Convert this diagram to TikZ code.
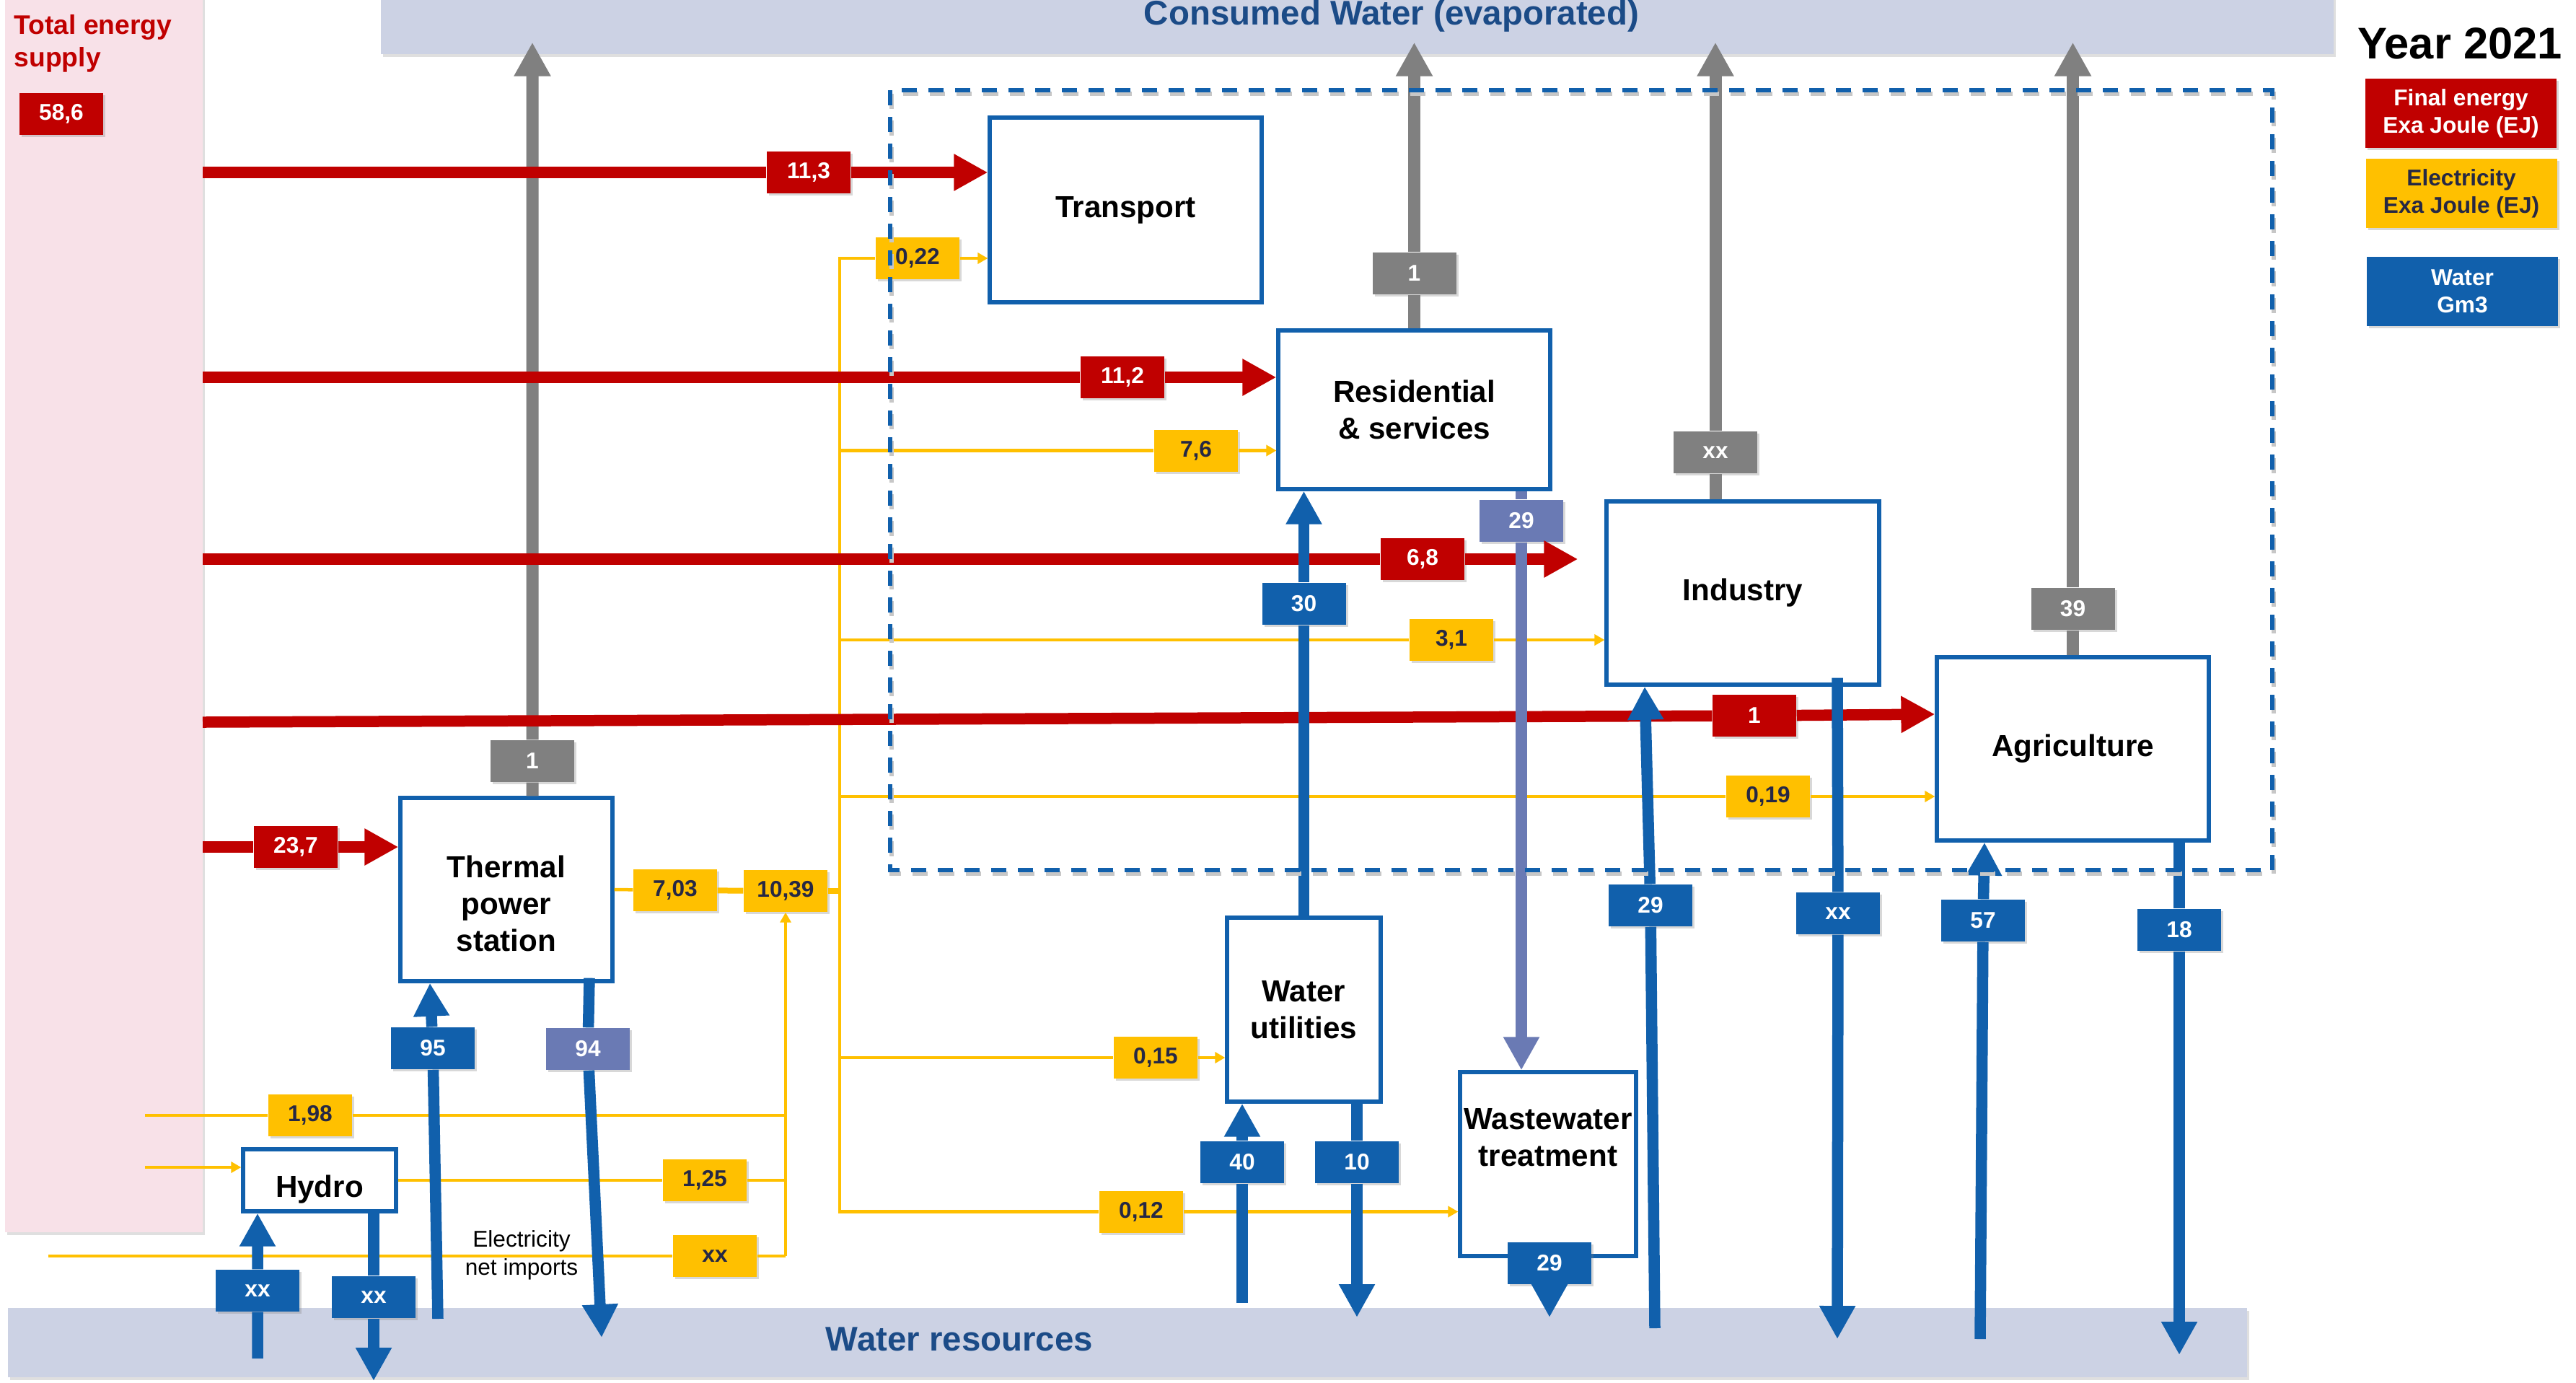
\documentclass[tikz,border=0pt]{standalone}
\usepackage{fontspec}
\setmainfont{Liberation Sans}
\usetikzlibrary{arrows.meta,shadows}

\definecolor{fered}{RGB}{192,0,0}
\definecolor{elyel}{RGB}{255,192,0}
\definecolor{eltxt}{RGB}{38,40,68}
\definecolor{evgray}{RGB}{128,128,128}
\definecolor{wblue}{RGB}{17,96,172}
\definecolor{wlav}{RGB}{106,122,180}
\definecolor{bandblue}{RGB}{204,210,228}
\definecolor{bandtxt}{RGB}{27,75,135}
\definecolor{tespink}{RGB}{248,225,232}

\begin{document}
\begin{tikzpicture}[
  sector/.style={draw=wblue, line width=1.5pt, fill=white, inner sep=0pt, align=center, font=\bfseries\fontsize{12}{14.5}\selectfont},
  sectxt/.style={align=center, inner sep=0pt, font=\bfseries\fontsize{12}{14.5}\selectfont},
  val/.style={minimum width=1.16cm, minimum height=0.58cm, inner sep=0pt, font=\bfseries\fontsize{9}{10}\selectfont,
    drop shadow={shadow xshift=0.03cm, shadow yshift=-0.03cm, opacity=0.3}},
  feval/.style={val, fill=fered, text=white},
  elval/.style={val, fill=elyel, text=eltxt},
  evval/.style={val, fill=evgray, text=white},
  wval/.style={val, fill=wblue, text=white},
  wwval/.style={val, fill=wlav, text=white},
  band/.style={fill=bandblue, inner sep=0pt, drop shadow={shadow xshift=0.03cm, shadow yshift=-0.04cm, opacity=0.25}},
  bandlbl/.style={font=\bfseries\fontsize{13.5}{15}\selectfont, text=bandtxt, inner sep=0pt},
  legend/.style={minimum width=2.65cm, minimum height=0.96cm, inner sep=0pt, align=center, font=\bfseries\fontsize{9}{10.8}\selectfont,
    drop shadow={shadow xshift=0.03cm, shadow yshift=-0.03cm, opacity=0.3}},
  fe/.style={draw=fered, line width=0.155cm, -{Triangle[width=0.48cm,length=0.47cm]}},
  ev/.style={draw=evgray, line width=0.17cm, -{Triangle[width=0.48cm,length=0.47cm]}},
  wf/.style={draw=wblue, line width=0.155cm, -{Triangle[width=0.47cm,length=0.46cm]}},
  wwf/.style={wf, draw=wlav},
  el/.style={draw=elyel, line width=0.045cm},
  elarr/.style={el, -{Triangle[width=0.15cm,length=0.14cm]}},
  elbus/.style={draw=elyel, line width=0.08cm},
  frame/.style={line width=1.6pt, dash pattern=on 0.21cm off 0.16cm}
]
\path[use as bounding box, fill=white] (0,0) rectangle (35.71,-19.16);

% Supply, consumed water and water resources
\node[band, fill=tespink, minimum width=2.74cm, minimum height=17.18cm] (tes) at (1.44,-8.49) {};
\node[band, minimum width=27.07cm, minimum height=0.85cm] (evap) at (18.815,-0.325) {};
\node[band, minimum width=31.04cm, minimum height=0.96cm] (wres) at (15.63,-18.61) {};
\node[bandlbl, anchor=base] (evaplbl) at (19.29,-0.34) {Consumed Water (evaporated)};
\node[bandlbl] (wreslbl) at (13.30,-18.56) {Water resources};
\node[font=\bfseries\fontsize{10.6}{12.8}\selectfont, text=fered, align=left, anchor=north west, inner sep=0pt] (teslbl) at (0.19,-0.20) {Total energy\\supply};
\node[feval] (v586) at (0.85,-1.58) {58,6};

% Legend
\node[font=\bfseries\fontsize{17.5}{20}\selectfont, inner sep=0pt] (year) at (34.10,-0.60) {Year 2021};
\node[legend, fill=fered, text=white] (legfe) at (34.115,-1.57) {Final energy\\Exa Joule (EJ)};
\node[legend, fill=elyel, text=eltxt] (legel) at (34.12,-2.68) {Electricity\\Exa Joule (EJ)};
\node[legend, fill=wblue, text=white] (legw) at (34.135,-4.035) {Water\\Gm3};

% Sectors
\node[sector, minimum width=3.77cm, minimum height=2.56cm] (trn) at (15.605,-2.91) {Transport};
\node[sector, minimum width=3.77cm, minimum height=2.20cm] (res) at (19.605,-5.68) {Residential\\\& services};
\node[sector, minimum width=3.78cm, minimum height=2.54cm] (ind) at (24.16,-8.22) {Industry};
\node[sector, minimum width=3.77cm, minimum height=2.54cm] (agr) at (28.735,-10.38) {Agriculture};
\node[sector, minimum width=2.94cm, minimum height=2.54cm] (tps) at (7.02,-12.33) {};
\node[sector, minimum width=2.12cm, minimum height=0.86cm] (hyd) at (4.43,-16.36) {};
\node[sector, minimum width=2.13cm, minimum height=2.55cm] (wut) at (18.075,-13.995) {Water\\utilities};
\node[sector, minimum width=2.44cm, minimum height=2.55cm] (wwt) at (21.46,-16.135) {};
\node[sectxt] (tpslbl) at ([yshift=-0.19cm]tps.center) {Thermal\\power\\station};
\node[sectxt] (hydlbl) at ([yshift=-0.13cm]hyd.center) {Hydro};
\node[sectxt] (wwtlbl) at ([yshift=0.37cm]wwt.center) {Wastewater\\treatment};

% Values: final energy
\node[feval] (f113) at (11.21,-2.39) {11,3};
\node[feval] (f112) at (15.56,-5.23) {11,2};
\node[feval] (f68) at (19.72,-7.75) {6,8};
\node[feval] (f1) at (24.32,-9.92) {1};
\node[feval] (f237) at (4.10,-11.74) {23,7};
% Values: consumed water
\node[evval] (g1) at (7.38,-10.55) {1};
\node[evval] (g2) at (19.605,-3.79) {1};
\node[evval] (g3) at (23.78,-6.27) {xx};
\node[evval] (g4) at (28.735,-8.44) {39};
% Values: electricity
\node[elval] (e022) at (12.72,-3.58) {0,22};
\node[elval] (e76) at (16.58,-6.245) {7,6};
\node[elval] (e31) at (20.12,-8.87) {3,1};
\node[elval] (e019) at (24.51,-11.04) {0,19};
\node[elval] (e015) at (16.02,-14.66) {0,15};
\node[elval] (e012) at (15.82,-16.795) {0,12};
\node[elval] (e703) at (9.36,-12.34) {7,03};
\node[elval] (e1039) at (10.89,-12.35) {10,39};
\node[elval] (e198) at (4.30,-15.46) {1,98};
\node[elval] (e125) at (9.77,-16.36) {1,25};
\node[elval] (eimp) at (9.91,-17.41) {xx};
\node[font=\fontsize{9}{11}\selectfont, align=center, inner sep=0pt] (implbl) at (7.23,-17.40) {Electricity\\net imports};
% Values: water
\node[wval] (w95) at (6.00,-14.53) {95};
\node[wwval] (w94) at (8.15,-14.54) {94};
\node[wval] (whi) at (3.57,-17.89) {xx};
\node[wval] (who) at (5.18,-17.98) {xx};
\node[wval] (w30) at (18.075,-8.37) {30};
\node[wval] (w40) at (17.22,-16.11) {40};
\node[wval] (w10) at (18.81,-16.11) {10};
\node[wwval] (w29r) at (21.09,-7.22) {29};
\node[wval] (w29w) at (21.48,-17.51) {29};
\node[wval] (w29i) at (22.88,-12.55) {29};
\node[wval] (wxxi) at (25.48,-12.66) {xx};
\node[wval] (w57) at (27.49,-12.76) {57};
\node[wval] (w18) at (30.21,-12.89) {18};

% Free ends
\coordinate (pe1) at (2.81,-2.39);
\coordinate (pe2) at (2.81,-5.23);
\coordinate (pe3) at (2.81,-7.75);
\coordinate (pe4) at (2.81,-10.01);
\coordinate (pe5) at (2.81,-11.74);
\coordinate (bus) at (11.64,-12.35);
\coordinate (jn) at (10.89,-17.41);
\coordinate (s198) at (2.01,-15.46);
\coordinate (shyd) at (2.01,-16.18);
\coordinate (simp) at (0.67,-17.41);
\coordinate (c95) at (6.07,-18.28);
\coordinate (c94) at (8.34,-18.54);
\coordinate (chi) at (3.57,-18.83);
\coordinate (cho) at (5.18,-19.14);
\coordinate (c40) at (17.22,-18.06);
\coordinate (c10) at (18.81,-18.26);
\coordinate (cww) at (21.48,-18.26);
\coordinate (ci29) at (22.94,-18.41);
\coordinate (cixx) at (25.47,-18.56);
\coordinate (c57) at (27.45,-18.56);
\coordinate (c18) at (30.21,-18.78);

% Consumed water (evaporated)
\draw[ev] ([xshift=0.36cm]tps.north) -- (g1) -- ([yshift=0.17cm]g1 |- evap.south);
\draw[ev] (res.north) -- (g2) -- ([yshift=0.17cm]g2 |- evap.south);
\draw[ev] ([xshift=-0.38cm]ind.north) -- (g3) -- ([yshift=0.17cm]g3 |- evap.south);
\draw[ev] (agr.north) -- (g4) -- ([yshift=0.17cm]g4 |- evap.south);

% Electricity
\draw[el] (tps.east) -- (e703);
\draw[elbus] (e703) -- (e1039);
\draw[elbus] (e1039) -- (e1039 -| bus);
\draw[elarr] (bus) |- (e022) -- (e022 -| trn.west);
\draw[elarr] (bus) |- (e76) -- (e76 -| res.west);
\draw[elarr] (bus) |- (e31) -- (e31 -| ind.west);
\draw[elarr] (bus) |- (e019) -- (e019 -| agr.west);
\draw[elarr] (bus) |- (e015) -- (e015 -| wut.west);
\draw[elarr] (bus) |- (e012) -- (e012 -| wwt.west);
\draw[el] (s198) -- (e198) -- (e198 -| jn);
\draw[elarr] (shyd) -- (shyd -| hyd.west);
\draw[el] (hyd.east) -- (e125) -- (e125 -| jn);
\draw[el] (simp) -- (eimp) -- (jn);
\draw[elarr] (jn) -- (e1039);

% Final energy
\draw[fe] (pe1) -- (f113) -- (f113 -| trn.west);
\draw[fe] (pe2) -- (f112) -- (f112 -| res.west);
\draw[fe] (pe3) -- (f68) -- ([xshift=-0.37cm]f68 -| ind.west);
\draw[fe] (pe4) -- (f1) -- ([yshift=0.02cm]f1 -| agr.west);
\draw[fe] (pe5) -- (f237) -- (f237 -| tps.west);

% Water
\draw[wf] (c95) -- (w95) -- ([xshift=-1.06cm]tps.south);
\draw[wf] ([xshift=1.15cm,yshift=0.07cm]tps.south) -- (w94) -- (c94);
\draw[wf] (chi) -- (whi) -- ([xshift=-0.86cm]hyd.south);
\draw[wf] ([xshift=0.75cm]hyd.south) -- (who) -- (cho);
\draw[wf] (wut.north) -- (w30) -- (w30 |- res.south);
\draw[wwf] (w29r |- res.south) -- (w29r) -- (w29r |- wwt.north);
\draw[wf] (c40) -- (w40) -- (w40 |- wut.south);
\draw[wf] (w10 |- wut.south) -- (w10) -- (c10);
\draw[wf] (w29w) -- (cww);
\draw[wf] (ci29) -- (w29i) -- ([xshift=-1.36cm]ind.south);
\draw[wf] ([xshift=1.31cm,yshift=0.12cm]ind.south) -- (wxxi) -- (cixx);
\draw[wf] (c57) -- (w57) -- ([xshift=-1.225cm]agr.south);
\draw[wf] (w18 |- agr.south) -- (w18) -- (c18);

% End-use frame, with its shadow
\draw[frame, black!22] (12.36,-1.30) rectangle (31.52,-12.11);
\draw[frame, wblue] (12.34,-1.25) rectangle (31.50,-12.06);
\end{tikzpicture}
\end{document}
